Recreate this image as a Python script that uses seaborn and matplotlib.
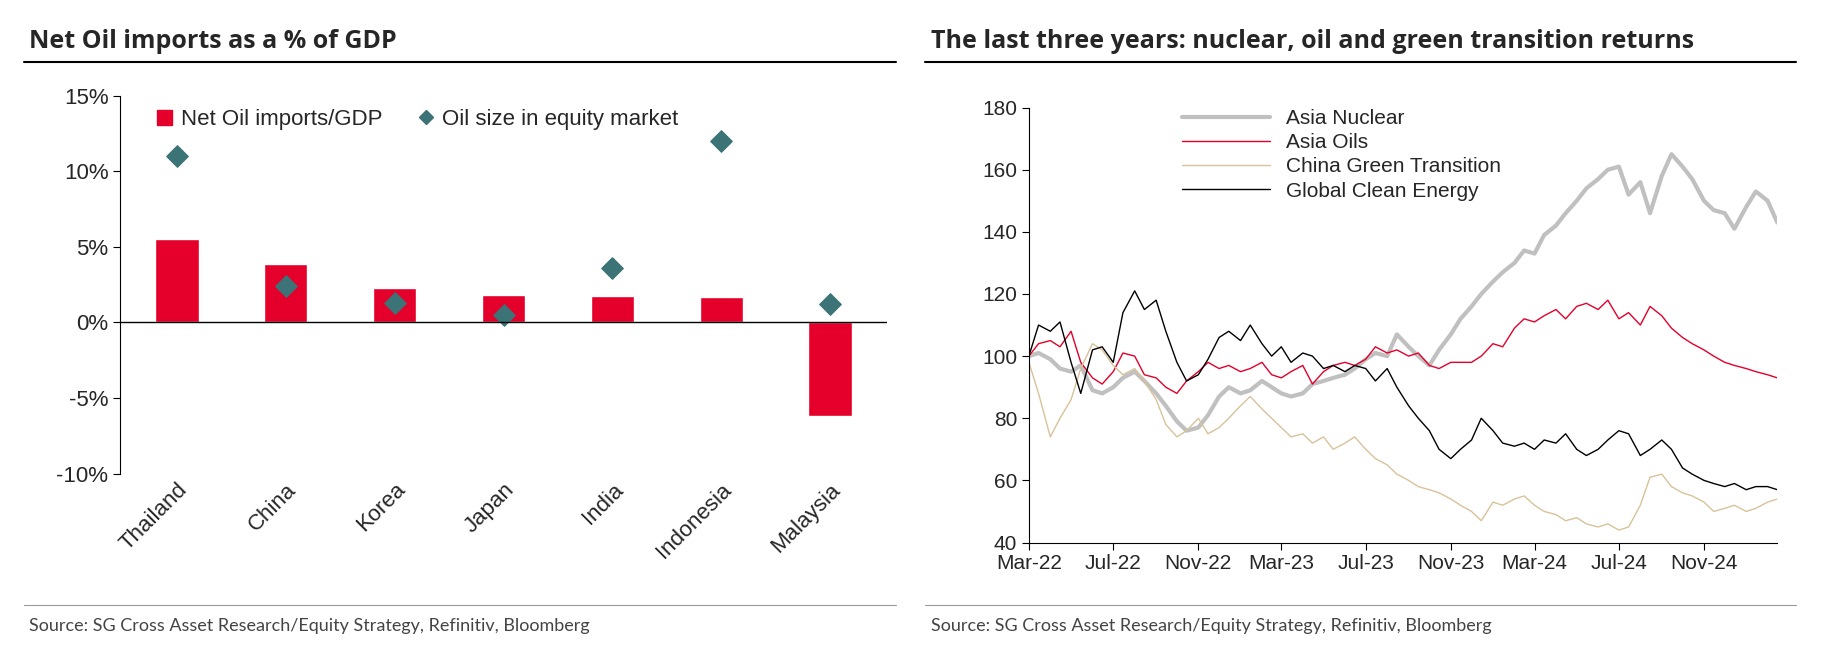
import pandas as pd
import matplotlib.pyplot as plt
import matplotlib.dates as mdates
from matplotlib.ticker import FuncFormatter
from matplotlib.lines import Line2D
from matplotlib.patches import Patch
import seaborn as sns

# Left panel data
countries = ['Thailand', 'China', 'Korea', 'Japan', 'India', 'Indonesia', 'Malaysia']
net_oil_imports = [5.5, 3.9, 2.3, 1.85, 1.75, 1.7, -6.2]
oil_equity_size = [11.0, 2.4, 1.3, 0.5, 3.6, 12.0, 1.2]

# Right panel data, semi-monthly from Mar-22 to Feb-25
asia_nuclear = [100, 101, 99, 96, 95, 97,
                89, 88, 90, 93, 95, 92,
                88, 84, 79, 76, 77, 81,
                87, 90, 88, 89, 92, 90,
                88, 87, 88, 91, 92, 93,
                94, 96, 99, 101, 100, 107,
                103, 100, 97, 102, 107, 112,
                116, 120, 124, 127, 130, 134,
                133, 139, 142, 146, 150, 154,
                157, 160, 161, 152, 156, 146,
                158, 165, 161, 157, 150, 147,
                146, 141, 148, 153, 150, 143]
asia_oils = [100, 104, 105, 103, 108, 98,
             93, 91, 95, 101, 100, 94,
             93, 90, 88, 92, 95, 98,
             96, 97, 95, 96, 98, 94,
             93, 95, 97, 91, 95, 97,
             98, 97, 99, 103, 101, 102,
             100, 101, 97, 96, 98, 98,
             98, 100, 104, 103, 109, 112,
             111, 113, 115, 112, 116, 117,
             115, 118, 112, 114, 110, 116,
             113, 109, 106, 104, 102, 100,
             98, 97, 96, 95, 94, 93]
china_green = [98, 88, 74, 80, 86, 96,
               104, 102, 97, 94, 96, 92,
               86, 78, 74, 76, 80, 75,
               77, 80, 84, 87, 83, 80,
               77, 74, 75, 72, 74, 70,
               72, 74, 70, 67, 65, 62,
               60, 58, 57, 56, 54, 52,
               50, 47, 53, 52, 54, 55,
               52, 50, 49, 47, 48, 46,
               45, 46, 44, 45, 52, 61,
               62, 58, 56, 55, 53, 50,
               51, 52, 50, 51, 53, 54]
global_clean = [100, 110, 108, 111, 98, 88,
                102, 103, 98, 114, 121, 115,
                118, 108, 98, 92, 94, 99,
                106, 108, 105, 110, 104, 100,
                103, 98, 101, 100, 96, 97,
                95, 97, 96, 92, 96, 90,
                84, 80, 76, 70, 67, 70,
                73, 80, 76, 72, 71, 72,
                70, 73, 72, 75, 70, 68,
                70, 73, 76, 75, 68, 70,
                73, 70, 64, 62, 60, 59,
                58, 59, 57, 58, 58, 57]
tick_months = ['2022-03', '2022-07', '2022-11', '2023-03', '2023-07',
               '2023-11', '2024-03', '2024-07', '2024-11']

RED = '#e4002b'
TEAL = '#3b7377'

sns.set_style('white')
plt.rcParams['font.family'] = ['Liberation Sans', 'DejaVu Sans']

fig = plt.figure(figsize=(18.21, 6.56), dpi=100)

# headers, rules, sources
for x0, x1, title in [(0.013, 0.492, 'Net Oil imports as a % of GDP'),
                      (0.508, 0.986, 'The last three years: nuclear, oil and green transition returns')]:
    fig.text(x0 + 0.003, 0.937, title, fontsize=18, fontweight='bold',
             family=['Open Sans', 'DejaVu Sans'], va='center')
    fig.add_artist(Line2D([x0, x1], [0.905, 0.905], color='black', lw=1.5))
    fig.add_artist(Line2D([x0, x1], [0.078, 0.078], color='#999999', lw=0.8))
    fig.text(x0 + 0.003, 0.046, 'Source: SG Cross Asset Research/Equity Strategy, Refinitiv, Bloomberg',
             fontsize=13, color='#444444', family=['Lato', 'DejaVu Sans'], va='center')

# Left chart
ax1 = fig.add_axes([0.066, 0.278, 0.421, 0.576])
df1 = pd.DataFrame({'country': countries, 'imports': net_oil_imports, 'equity': oil_equity_size})
sns.barplot(data=df1, x='country', y='imports', color=RED, width=0.4, saturation=1, ax=ax1, zorder=2)
sns.scatterplot(data=df1, x='country', y='equity', marker='D', s=120, color=TEAL,
                edgecolor=TEAL, ax=ax1, zorder=3)
ax1.axhline(0, color='black', lw=1, zorder=4)
ax1.set_ylim(-10, 15)
ax1.set_yticks(range(-10, 16, 5))
ax1.yaxis.set_major_formatter(FuncFormatter(lambda v, p: f'{v:.0f}%'))
ax1.set_xlabel('')
ax1.set_ylabel('')
for s in ['top', 'right', 'bottom']:
    ax1.spines[s].set_visible(False)
ax1.spines['left'].set_color('black')
ax1.tick_params(axis='y', direction='out', length=5, color='black', labelsize=16, left=True)
ax1.tick_params(axis='x', length=0, labelsize=16, pad=4)
plt.setp(ax1.get_xticklabels(), rotation=45, ha='right', rotation_mode='anchor')
handles = [Patch(color=RED), Line2D([], [], marker='D', ls='', color=TEAL, markersize=7)]
leg = ax1.legend(handles, ['Net Oil imports/GDP', 'Oil size in equity market'], ncol=2,
                 loc='upper left', bbox_to_anchor=(0.03, 1.0), fontsize=16, frameon=True,
                 handlelength=0.7, handletextpad=0.4, columnspacing=1.6, borderaxespad=0.2)
leg.get_frame().set_edgecolor('white')
leg.get_frame().set_alpha(1)
leg.set_zorder(5)

# Right chart
ax2 = fig.add_axes([0.565, 0.173, 0.411, 0.663])
dates = pd.date_range('2022-03-01', periods=len(asia_nuclear), freq='SMS')
df2 = pd.DataFrame({'date': dates, 'Asia Nuclear': asia_nuclear, 'Asia Oils': asia_oils,
                    'China Green Transition': china_green, 'Global Clean Energy': global_clean})
styles = [('Asia Nuclear', '#c0c0c0', 3), ('Asia Oils', RED, 1),
          ('China Green Transition', '#d8c29a', 1), ('Global Clean Energy', 'black', 1)]
for name, col, lw in styles:
    sns.lineplot(data=df2, x='date', y=name, color=col, lw=lw, label=name, ax=ax2)
ax2.set_ylim(40, 180)
ax2.set_yticks(range(40, 181, 20))
ax2.set_xlim(dates[0], dates[-1])
ax2.set_xticks(pd.to_datetime(tick_months))
ax2.xaxis.set_major_formatter(mdates.DateFormatter('%b-%y'))
ax2.set_xlabel('')
ax2.set_ylabel('')
for s in ['top', 'right']:
    ax2.spines[s].set_visible(False)
for s in ['left', 'bottom']:
    ax2.spines[s].set_color('black')
ax2.tick_params(direction='out', length=5, color='black', labelsize=15, left=True, bottom=True)
ax2.legend(loc='upper left', bbox_to_anchor=(0.18, 1.04), frameon=False, fontsize=15,
           handlelength=4.2, labelspacing=0.25)

fig.savefig('out.png', dpi=100)
